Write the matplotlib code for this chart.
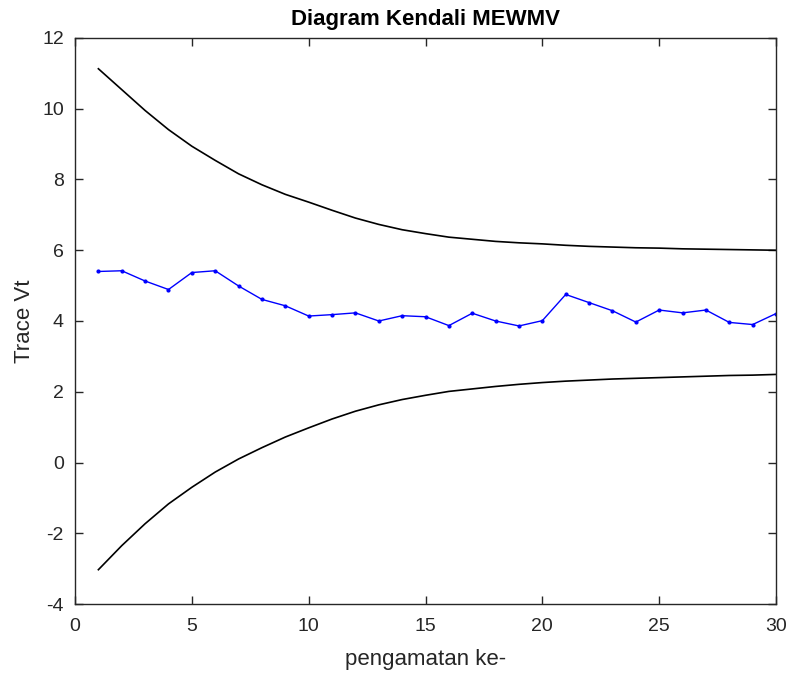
import matplotlib
matplotlib.use("Agg")
import matplotlib.pyplot as plt

# observation index
obs = list(range(1, 31))

# trace of V_t (blue series)
trace_vt = [5.40, 5.42, 5.13, 4.89, 5.37, 5.42, 4.99, 4.61, 4.43, 4.14,
            4.18, 4.23, 4.00, 4.15, 4.12, 3.87, 4.22, 4.00, 3.86, 4.01,
            4.75, 4.52, 4.29, 3.97, 4.31, 4.23, 4.31, 3.96, 3.90, 4.21]

# upper and lower control limits
ucl = [11.13, 10.54, 9.95, 9.41, 8.94, 8.54, 8.16, 7.85, 7.58, 7.36,
       7.13, 6.91, 6.73, 6.58, 6.47, 6.37, 6.31, 6.25, 6.21, 6.18,
       6.14, 6.11, 6.09, 6.07, 6.06, 6.04, 6.03, 6.02, 6.01, 6.00]
lcl = [-3.03, -2.35, -1.73, -1.17, -0.70, -0.27, 0.10, 0.42, 0.72, 0.98,
       1.23, 1.45, 1.63, 1.78, 1.90, 2.01, 2.08, 2.15, 2.21, 2.26,
       2.30, 2.33, 2.36, 2.38, 2.40, 2.42, 2.44, 2.46, 2.47, 2.49]

plt.rcParams["font.family"] = ["Liberation Sans", "DejaVu Sans"]
plt.rcParams["axes.unicode_minus"] = False

fig = plt.figure(figsize=(7.88, 6.77), dpi=100)
ax = fig.add_axes([0.0952, 0.1078, 0.8896, 0.8361])

ax.plot(obs, trace_vt, color="blue", linewidth=1.0, marker=".", markersize=4)
ax.plot(obs, ucl, color="black", linewidth=1.2)
ax.plot(obs, lcl, color="black", linewidth=1.2)

ax.set_xlim(0, 30)
ax.set_ylim(-4, 12)
ax.set_xticks(range(0, 31, 5))
ax.set_yticks(range(-4, 13, 2))
ax.tick_params(direction="in", top=True, right=True, labelsize=14,
               colors="#262626", length=6, width=1)
ax.tick_params(axis="x", pad=10)
ax.tick_params(axis="y", pad=8)
for spine in ax.spines.values():
    spine.set_color("#262626")
    spine.set_linewidth(1.0)

ax.set_title("Diagram Kendali MEWMV", fontsize=16, fontweight="bold", pad=9)
ax.set_xlabel("pengamatan ke-", fontsize=16, color="#262626", labelpad=10)
ax.set_ylabel("Trace Vt", fontsize=16, color="#262626", labelpad=5)

fig.savefig("out.png", dpi=100)
